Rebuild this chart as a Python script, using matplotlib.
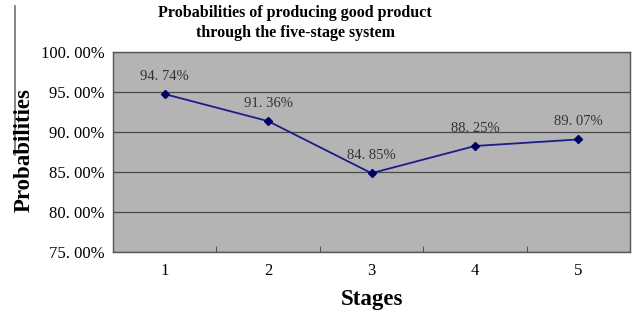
import matplotlib.pyplot as plt
from matplotlib.lines import Line2D
from matplotlib.ticker import FixedLocator, FuncFormatter

stages = ["1", "2", "3", "4", "5"]
probs = [94.74, 91.36, 84.85, 88.25, 89.07]
yticks = [75, 80, 85, 90, 95, 100]

plt.rcParams['font.family'] = ['Liberation Serif', 'DejaVu Serif']

fig = plt.figure(figsize=(6.4, 3.12), dpi=100)
ax = fig.add_axes([113/640, 1 - 252/312, 517/640, 200/312])
ax.set_facecolor('#b4b4b4')

x = list(range(1, len(stages) + 1))
ax.plot(x, probs, color='#1c1c8a', lw=1.3, marker='D', ms=4.5,
        mfc='#000066', mec='#000066', zorder=3)
for xi, p in zip(x, probs):
    ax.annotate(f"{p:.2f}%".replace('.', '. '), (xi, p), xytext=(0, 8),
                textcoords='offset points', ha='center', va='bottom',
                fontsize=10.5, color='#333333')

ax.set_xlim(0.5, len(stages) + 0.5)
ax.set_ylim(75, 100)
ax.set_yticks(yticks)
ax.yaxis.set_major_formatter(FuncFormatter(lambda v, _: f"{v:.2f}%".replace('.', '. ')))
ax.grid(axis='y', color='#4a4a4a', lw=0.9)
ax.set_axisbelow(True)

ax.xaxis.set_major_locator(FixedLocator([i + 0.5 for i in range(1, len(stages))]))
ax.xaxis.set_major_formatter(FuncFormatter(lambda v, _: ''))
ax.xaxis.set_minor_locator(FixedLocator(x))
ax.set_xticklabels(stages, minor=True)
ax.tick_params(axis='x', which='major', length=4, direction='in', color='#555555')
ax.tick_params(axis='x', which='minor', length=0, pad=8, labelsize=12)
ax.tick_params(axis='y', length=0, pad=6, labelsize=12)

for s in ax.spines.values():
    s.set_color('#555555')
    s.set_linewidth(1)

fig.text(24/640, 1 - 150/312, 'Probabilities', rotation=90, ha='center', va='center',
         fontsize=16.5, fontweight='bold')
ax.set_xlabel('Stages', fontsize=16.5, fontweight='bold', labelpad=7)
fig.text(295/640, 1 - 23/312, 'Probabilities of producing good product\nthrough the five-stage system',
         ha='center', va='center', fontsize=11.5, fontweight='bold', linespacing=1.4)

fig.add_artist(Line2D([15/640, 15/640], [1 - 6/312, 1 - 155/312], color='#707070', lw=1.2))

fig.savefig('out.png', dpi=100, facecolor='white')
